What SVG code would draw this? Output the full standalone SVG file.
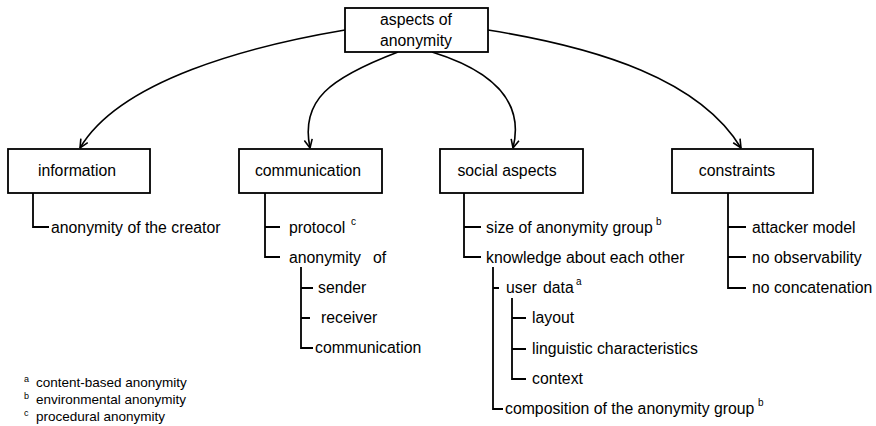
<svg xmlns="http://www.w3.org/2000/svg" width="876" height="426" viewBox="0 0 876 426">
<defs>
<style>
text{font-family:"Liberation Sans",Arial,sans-serif;fill:#000}
.t{font-size:15.8px}
.c{text-anchor:middle}
.s{font-size:10px}
.f{font-size:13.5px}
.fs{font-size:9px}
.box{fill:#fff;stroke:#000;stroke-width:1.8}
.ln{fill:none;stroke:#000;stroke-width:1.8}
.cv{fill:none;stroke:#000;stroke-width:1.6;marker-end:url(#arr)}
</style>
<marker id="arr" viewBox="0 0 10 10" refX="9.5" refY="5" markerWidth="10" markerHeight="10" markerUnits="userSpaceOnUse" orient="auto">
<path d="M1,1 L9.5,5 L1,9" fill="none" stroke="#000" stroke-width="1.6"/>
</marker>
</defs>
<rect width="876" height="426" fill="#fff"/>
<g id="connectors">
<path class="cv" d="M345,30 C250,46 120,80 80,148"/>
<path class="cv" d="M398,52 C330,78 300,100 310,148"/>
<path class="cv" d="M432,52 C490,70 525,100 513,148"/>
<path class="cv" d="M488,30 C600,48 700,80 741,148"/>
<path class="ln" d="M33,193 V227 H49"/>
<path class="ln" d="M265,193 V257 H280 M265,227 H280"/>
<path class="ln" d="M301,267 V348 H313 M301,288 H313 M301,318 H310"/>
<path class="ln" d="M464,193 V257 H481 M464,227 H481"/>
<path class="ln" d="M493,267 V409 H503 M493,288 H499"/>
<path class="ln" d="M512,298 V379 H526 M512,318 H526 M512,349 H526"/>
<path class="ln" d="M728,193 V288 H746 M728,227 H746 M728,257 H746"/>
</g>
<g id="root">
<rect class="box" x="345" y="8" width="143" height="44"/>
<text class="t c" x="416" y="25">aspects of</text>
<text class="t c" x="416" y="46">anonymity</text>
</g>
<g id="information">
<rect class="box" x="8" y="149" width="142" height="44"/>
<text class="t c" x="77" y="176">information</text>
</g>
<g id="communication">
<rect class="box" x="239" y="149" width="143" height="44"/>
<text class="t c" x="308" y="176">communication</text>
</g>
<g id="social">
<rect class="box" x="440" y="149" width="143" height="44"/>
<text class="t c" x="507" y="176">social aspects</text>
</g>
<g id="constraints">
<rect class="box" x="672" y="149" width="141" height="44"/>
<text class="t c" x="737" y="176">constraints</text>
</g>
<g id="info-items">
<text class="t" x="51" y="233">anonymity of the creator</text>
</g>
<g id="comm-items">
<text class="t" x="289" y="233">protocol</text>
<text class="s" x="351" y="225">c</text>
<text class="t" x="289" y="263">anonymity</text>
<text class="t" x="373" y="263">of</text>
<text class="t" x="318" y="293">sender</text>
<text class="t" x="321" y="323">receiver</text>
<text class="t" x="315" y="353">communication</text>
</g>
<g id="social-items">
<text class="t" x="486" y="233">size of anonymity group</text>
<text class="s" x="656" y="225">b</text>
<text class="t" x="486" y="263">knowledge about each other</text>
<text class="t" x="506" y="293">user</text>
<text class="t" x="543" y="293">data</text>
<text class="s" x="576" y="285">a</text>
<text class="t" x="532" y="323">layout</text>
<text class="t" x="532" y="354">linguistic characteristics</text>
<text class="t" x="532" y="384">context</text>
<text class="t" x="505" y="414">composition of the anonymity group</text>
<text class="s" x="758" y="406">b</text>
</g>
<g id="constraint-items">
<text class="t" x="752" y="233">attacker model</text>
<text class="t" x="752" y="263">no observability</text>
<text class="t" x="752" y="293">no concatenation</text>
</g>
<g id="footnotes">
<text class="fs" x="24" y="382">a</text>
<text class="f" x="36" y="387">content-based anonymity</text>
<text class="fs" x="24" y="399">b</text>
<text class="f" x="36" y="404">environmental anonymity</text>
<text class="fs" x="24" y="416">c</text>
<text class="f" x="36" y="421">procedural anonymity</text>
</g>
</svg>
